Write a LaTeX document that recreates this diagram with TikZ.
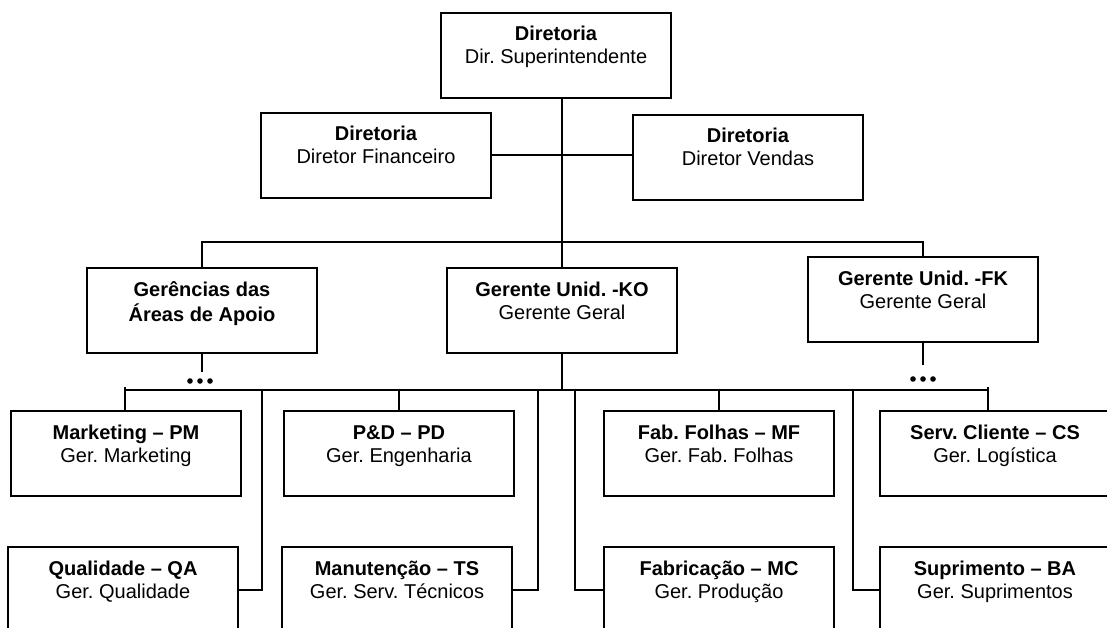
\documentclass[tikz,border=0pt]{standalone}
\usepackage{fontspec}
\setmainfont{Liberation Sans}
\frenchspacing
\begin{document}
\begin{tikzpicture}[x=1pt,y=-1pt,
  box/.style={draw, line width=2.3pt, rectangle, inner sep=0pt, outer sep=0pt,
    minimum width=230pt, text height=51pt, text depth=34pt, align=center,
    anchor=north west, font=\fontsize{20}{23}\selectfont},
  link/.style={line width=2pt},
  dot/.style={fill=black}]
\useasboundingbox (0,0) rectangle (1107,628);
\fill[white] (0,0) rectangle (1107,628);
\clip (0,0) rectangle (1107,628);

% boxes
\node[box] (dir) at (441,13)  {\textbf{Diretoria}\\Dir. Superintendente};
\node[box] (fin) at (261,113) {\textbf{Diretoria}\\Diretor Financeiro};
\node[box] (ven) at (633,115) {\textbf{Diretoria}\\Diretor Vendas};
\node[box, font=\fontsize{20}{25}\selectfont, text height=53pt, text depth=32pt]
  (apo) at (87,268)  {\textbf{Gerências das}\\\textbf{Áreas de Apoio}};
\node[box] (ko)  at (447,268) {\textbf{Gerente Unid. -KO}\\Gerente Geral};
\node[box] (fk)  at (808,257) {\textbf{Gerente Unid. -FK}\\Gerente Geral};
\node[box] (pm)  at (11,411)  {\textbf{Marketing – PM}\\Ger. Marketing};
\node[box] (pd)  at (284,411) {\textbf{P\&D – PD}\\Ger. Engenharia};
\node[box] (mf)  at (604,411) {\textbf{Fab. Folhas – MF}\\Ger. Fab. Folhas};
\node[box] (cs)  at (880,411) {\textbf{Serv. Cliente – CS}\\Ger. Logística};
\node[box] (qa)  at (8,547)   {\textbf{Qualidade – QA}\\Ger. Qualidade};
\node[box] (ts)  at (282,547) {\textbf{Manutenção – TS}\\Ger. Serv. Técnicos};
\node[box] (mc)  at (604,547) {\textbf{Fabricação – MC}\\Ger. Produção};
\node[box] (ba)  at (880,547) {\textbf{Suprimento – BA}\\Ger. Suprimentos};

% bus lines
\coordinate (busA) at (562,242);
\coordinate (busB) at (562,390);
\coordinate (busL) at (125,390);
\coordinate (busR) at (988,390);
\coordinate (b1) at (262,390);
\coordinate (b2) at (538,390);
\coordinate (b3) at (575,390);
\coordinate (b4) at (853,390);

% upper levels
\draw[link] (dir.south -| ko.north) -- (ko.north);
\draw[line width=2.8pt] (dir.south -| ko.north) -- ++(0,22);
\draw[link] (fin.east) -- (fin.east -| ven.west);
\draw[link] (apo.north) -- (apo.north |- busA) -- (fk.north |- busA) -- (fk.north);

% continuation marks under the side units
\draw[link] (apo.south) -- ++(0,19) coordinate (dA);
\foreach \dx in {-12,-2,8} \fill[dot] ([xshift=\dx pt]dA) ++(0,9) circle (2.8);
\draw[link] (fk.south) -- ++(0,23) coordinate (dB);
\foreach \dx in {-10,0,10} \fill[dot] ([xshift=\dx pt]dB) ++(0,14) circle (2.8);

% lower bus and departments
\draw[link] (ko.south) -- (ko.south |- busB);
\draw[link] (busL) -- (busR);
\draw[link] (busL) ++(0,-3) -- (busL |- pm.north);
\draw[link] (busR) ++(0,-3) -- (busR |- cs.north);
\draw[link] (pd.north |- busB) -- (pd.north);
\draw[link] (mf.north |- busB) -- (mf.north);
\draw[link] (b1) |- (qa.east);
\draw[link] (b2) |- (ts.east);
\draw[link] (b3) |- (mc.west);
\draw[link] (b4) |- (ba.west);
\end{tikzpicture}
\end{document}
